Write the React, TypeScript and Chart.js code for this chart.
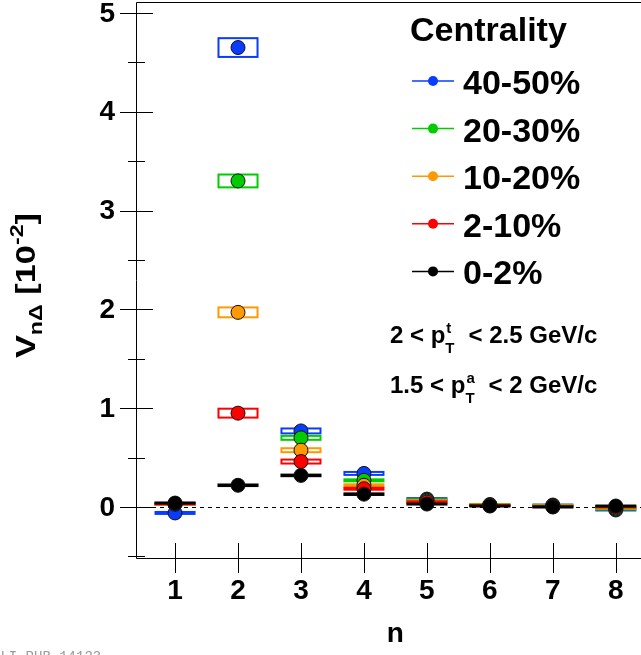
import React, { useEffect, useRef } from "react";
import { Chart, registerables } from "chart.js";

Chart.register(...registerables);

// ---------- data ----------
const nValues = [1, 2, 3, 4, 5, 6, 7, 8];
const centralityLabels = ["40-50%", "20-30%", "10-20%", "2-10%", "0-2%"];
const seriesColors = ["#0a3cff", "#00cc00", "#ff9900", "#ff0000", "#000000"];

const v40_50 = [-0.06, 4.65, 0.77, 0.34, 0.08, 0.02, 0.02, -0.03];
const v20_30 = [0.03, 3.3, 0.7, 0.27, 0.07, 0.025, 0.015, -0.02];
const v10_20 = [0.03, 1.97, 0.575, 0.22, 0.06, 0.02, 0.01, -0.01];
const v2_10 = [0.035, 0.95, 0.46, 0.185, 0.05, 0.015, 0.005, 0.0];
const v0_2 = [0.04, 0.22, 0.32, 0.13, 0.03, 0.01, 0.0, 0.01];

const sys40_50 = [0.01, 0.095, 0.025, 0.015, 0.01, 0.005, 0.005, 0.005];
const sys20_30 = [0.008, 0.065, 0.02, 0.01, 0.008, 0.005, 0.005, 0.005];
const sys10_20 = [0.008, 0.05, 0.02, 0.01, 0.008, 0.005, 0.005, 0.005];
const sys2_10 = [0.008, 0.045, 0.02, 0.01, 0.008, 0.005, 0.005, 0.005];
const sys0_2 = [0.005, 0.008, 0.008, 0.008, 0.005, 0.005, 0.005, 0.005];

const seriesValues = [v40_50, v20_30, v10_20, v2_10, v0_2];
const seriesSys = [sys40_50, sys20_30, sys10_20, sys2_10, sys0_2];

const yMajorTicks = [0, 1, 2, 3, 4, 5];
const yMinorTicks = [-0.5, 0.5, 1.5, 2.5, 3.5, 4.5];
const xMajorTicks = [1, 2, 3, 4, 5, 6, 7, 8];

const FONT = '"Liberation Sans", Arial, Helvetica, sans-serif';
const BOX_HALF_WIDTH = 0.31;

type Run = { t: string; size: number; dy: number } | { stack: [string, string]; size: number; gap: number };

function drawRuns(ctx: CanvasRenderingContext2D, runs: Run[], x: number, y: number, measureOnly = false): number {
  let cx = x;
  for (const r of runs) {
    ctx.font = `bold ${r.size}px ${FONT}`;
    if ("t" in r) {
      if (!measureOnly) ctx.fillText(r.t, cx, y + r.dy);
      cx += ctx.measureText(r.t).width;
    } else {
      const [sup, sub] = r.stack;
      if (!measureOnly) {
        ctx.fillText(sup, cx + 1, y - 10);
        ctx.fillText(sub, cx, y + 10);
      }
      cx += Math.max(ctx.measureText(sup).width, ctx.measureText(sub).width) + r.gap;
    }
  }
  return cx - x;
}

const decorPlugin = {
  id: "decor",
  beforeDatasetsDraw(chart: any) {
    const { ctx, chartArea, scales } = chart;
    const xs = scales.x;
    const ys = scales.y;
    ctx.save();
    // dashed zero line
    const y0 = Math.round(ys.getPixelForValue(0)) + 0.5;
    ctx.strokeStyle = "#000";
    ctx.lineWidth = 1;
    ctx.setLineDash([4, 4]);
    ctx.beginPath();
    ctx.moveTo(chartArea.left, y0);
    ctx.lineTo(chartArea.right, y0);
    ctx.stroke();
    ctx.setLineDash([]);
    // systematic boxes
    ctx.lineWidth = 2;
    seriesValues.forEach((vals, si) => {
      ctx.strokeStyle = seriesColors[si];
      vals.forEach((v, j) => {
        const n = nValues[j];
        const s = seriesSys[si][j];
        const x1 = xs.getPixelForValue(n - BOX_HALF_WIDTH);
        const x2 = xs.getPixelForValue(n + BOX_HALF_WIDTH);
        const y1 = ys.getPixelForValue(v + s);
        const y2 = ys.getPixelForValue(v - s);
        ctx.strokeRect(x1, y1, x2 - x1, y2 - y1);
      });
    });
    ctx.restore();
  },
  afterDraw(chart: any) {
    const { ctx, chartArea, scales } = chart;
    const xs = scales.x;
    const ys = scales.y;
    const L = chartArea.left;
    const B = chartArea.bottom;
    const T = chartArea.top;
    const R = chartArea.right;
    ctx.save();
    ctx.strokeStyle = "#000";
    ctx.lineWidth = 1;
    // frame
    ctx.beginPath();
    ctx.moveTo(L + 0.5, T + 0.5);
    ctx.lineTo(L + 0.5, B + 0.5);
    ctx.lineTo(R + 2, B + 0.5);
    ctx.moveTo(L + 0.5, T + 0.5);
    ctx.lineTo(R + 2, T + 0.5);
    ctx.stroke();
    // y ticks
    ctx.beginPath();
    yMajorTicks.forEach((v) => {
      const y = Math.round(ys.getPixelForValue(v)) + 0.5;
      ctx.moveTo(L - 16, y);
      ctx.lineTo(L + 17, y);
    });
    yMinorTicks.forEach((v) => {
      const y = Math.round(ys.getPixelForValue(v)) + 0.5;
      ctx.moveTo(L - 8, y);
      ctx.lineTo(L + 9, y);
    });
    // x ticks
    xMajorTicks.forEach((v) => {
      const x = Math.round(xs.getPixelForValue(v)) + 0.5;
      ctx.moveTo(x, B - 15);
      ctx.lineTo(x, B + 15);
    });
    ctx.stroke();

    // tick labels
    ctx.fillStyle = "#000";
    ctx.font = `bold 28px ${FONT}`;
    ctx.textAlign = "right";
    ctx.textBaseline = "middle";
    yMajorTicks.forEach((v) => {
      ctx.fillText(String(v), L - 21, ys.getPixelForValue(v) + 1);
    });
    ctx.textAlign = "center";
    ctx.textBaseline = "alphabetic";
    xMajorTicks.forEach((v) => {
      ctx.fillText(String(v), xs.getPixelForValue(v), B + 41);
    });
    // x title
    ctx.fillText("n", xs.getPixelForValue(4.5), B + 84);

    // y title (rotated)
    ctx.textAlign = "left";
    const yRuns: Run[] = [
      { t: "V", size: 28, dy: 0 },
      { t: "n\u0394", size: 19, dy: 7 },
      { t: " [10", size: 28, dy: 0 },
      { t: "-2", size: 19, dy: -12 },
      { t: "]", size: 28, dy: 0 },
    ];
    const natural = drawRuns(ctx, yRuns, 0, 0, true);
    ctx.save();
    ctx.translate(35, 358);
    ctx.rotate(-Math.PI / 2);
    ctx.scale(145 / natural, 1);
    drawRuns(ctx, yRuns, 0, 0);
    ctx.restore();

    // legend
    ctx.font = `bold 34px ${FONT}`;
    ctx.fillText("Centrality", 410, 41);
    centralityLabels.forEach((lab, i) => {
      const ry = 81 + i * 47.6;
      ctx.strokeStyle = seriesColors[i];
      ctx.lineWidth = 1.5;
      ctx.beginPath();
      ctx.moveTo(412, ry);
      ctx.lineTo(454, ry);
      ctx.stroke();
      ctx.fillStyle = seriesColors[i];
      ctx.beginPath();
      ctx.arc(433, ry, 5, 0, Math.PI * 2);
      ctx.fill();
      ctx.fillStyle = "#000";
      ctx.font = `bold 34px ${FONT}`;
      ctx.fillText(lab, 463, ry + 13);
    });

    // kinematic text
    ctx.fillStyle = "#000";
    drawRuns(
      ctx,
      [
        { t: "2 < p", size: 24, dy: 0 },
        { stack: ["t", "T"], size: 15, gap: 14 },
        { t: "< 2.5 GeV/c", size: 24, dy: 0 },
      ],
      390,
      343
    );
    drawRuns(
      ctx,
      [
        { t: "1.5 < p", size: 24, dy: 0 },
        { stack: ["a", "T"], size: 15, gap: 14 },
        { t: "< 2 GeV/c", size: 24, dy: 0 },
      ],
      390,
      393
    );

    // watermark
    ctx.fillStyle = "#9a9a9a";
    ctx.font = `14px "Liberation Mono", "DejaVu Sans Mono", monospace`;
    ctx.fillText("ALI-PUB-14123", -8, 661);
    ctx.restore();
  },
};

export default function App() {
  const canvasRef = useRef<HTMLCanvasElement | null>(null);

  useEffect(() => {
    if (!canvasRef.current) return;
    const datasets = centralityLabels.map((lab, i) => ({
      label: lab,
      data: nValues.map((n, j) => ({ x: n, y: seriesValues[i][j] })),
      backgroundColor: seriesColors[i],
      borderColor: "#111",
      pointRadius: 7,
      pointBorderWidth: 1,
      pointBorderColor: "#111",
      pointBackgroundColor: seriesColors[i],
      showLine: false,
      order: centralityLabels.length - i,
    }));
    const chart = new Chart(canvasRef.current, {
      type: "scatter",
      data: { datasets },
      options: {
        responsive: false,
        animation: false,
        devicePixelRatio: 1,
        layout: { autoPadding: false, padding: { left: 136, right: 0, top: 2, bottom: 97 } },
        scales: {
          x: { type: "linear", min: 0.38, max: 8.4, display: false },
          y: { type: "linear", min: -0.516, max: 5.111, display: false },
        },
        plugins: {
          legend: { display: false },
          tooltip: { enabled: false },
        },
      },
      plugins: [decorPlugin],
    } as any);
    return () => chart.destroy();
  }, []);

  return (
    <div style={{ position: "absolute", left: 0, top: 0, width: 641, height: 655, background: "#fff" }}>
      <canvas ref={canvasRef} width={641} height={655} style={{ display: "block" }} />
    </div>
  );
}
